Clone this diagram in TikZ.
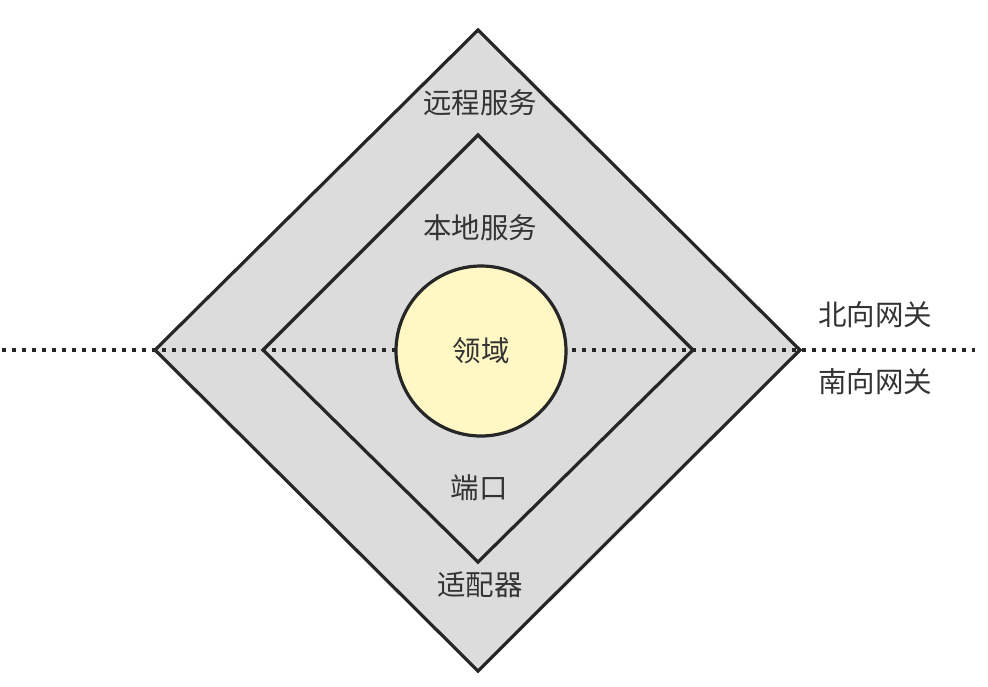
\documentclass[tikz,border=0pt]{standalone}
\usepackage{fontspec}
\newfontfamily\cjk{Noto Sans CJK SC}
\definecolor{edge}{HTML}{262626}
\definecolor{zonefill}{HTML}{DCDCDC}
\definecolor{corefill}{HTML}{FFF7C4}
\definecolor{txt}{HTML}{333333}
\tikzset{
  layer/.style={draw=edge, fill=zonefill, line width=3.2pt, line join=miter},
  core/.style={circle, draw=edge, fill=corefill, line width=3.2pt, minimum size=170pt, inner sep=0pt},
  lbl/.style={font=\cjk\fontsize{28.5}{31}\selectfont, text=txt, inner sep=0pt},
  boundary/.style={draw=edge, line width=3.3pt, dash pattern=on 3.5pt off 6.5pt},
}
\begin{document}
\begin{tikzpicture}[x=1pt,y=-1pt]
\useasboundingbox (0,0) rectangle (988,686);
% outer diamond
\coordinate (ot) at (478,30);
\coordinate (or) at (800,350);
\coordinate (ob) at (478,671);
\coordinate (ol) at (155,350);
\draw[layer] (ot) -- (or) -- (ob) -- (ol) -- cycle;
% inner diamond
\coordinate (it) at (478,135);
\coordinate (ir) at (693,350);
\coordinate (ib) at (478,562);
\coordinate (il) at (263,350);
\draw[layer] (it) -- (ir) -- (ib) -- (il) -- cycle;
% boundary line
\coordinate (lineL) at (2,350);
\coordinate (lineR) at (975,350);
\draw[boundary] (lineL) -- (lineR);
% core
\node[core] (domain) at (481,351) {};
\node[lbl] (domaintxt) at (481,351) {领域};
% labels
\node[lbl] (remote) at (480,103) {远程服务};
\node[lbl] (local) at (480,228) {本地服务};
\node[lbl] (port) at (479,488) {端口};
\node[lbl] (adapter) at (480,585) {适配器};
\node[lbl] (north) at (875,315) {北向网关};
\node[lbl] (south) at (875,382) {南向网关};
\end{tikzpicture}
\end{document}
